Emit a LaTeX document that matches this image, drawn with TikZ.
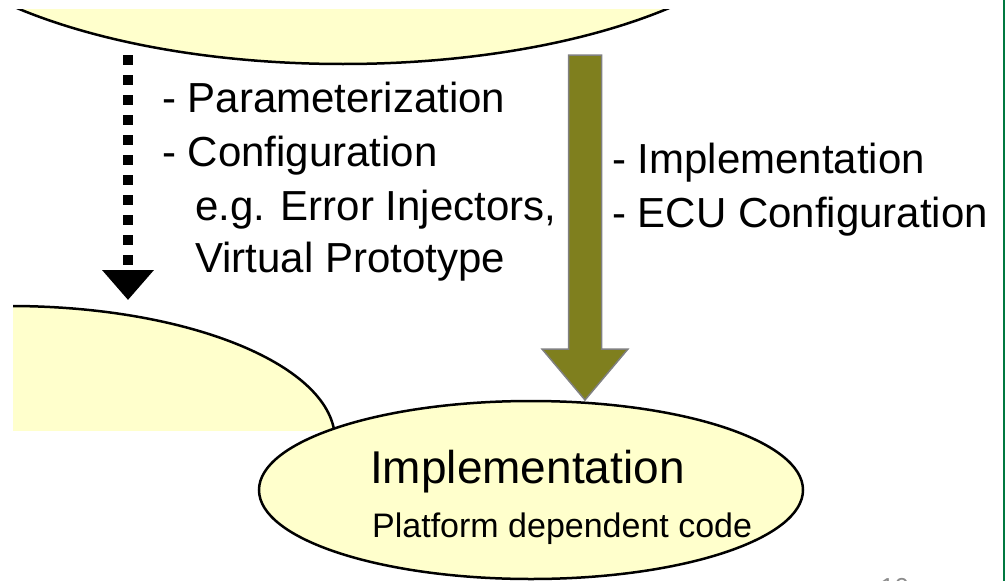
\documentclass[tikz,border=0pt]{standalone}
\usepackage{fontspec}
\setmainfont{Liberation Sans}
\usetikzlibrary{arrows.meta,shapes.geometric,calc}
\definecolor{paleyellow}{RGB}{255,255,204}
\definecolor{olivefill}{RGB}{127,127,30}
\definecolor{olivegray}{RGB}{128,128,128}
\definecolor{framegreen}{RGB}{0,120,64}
\definecolor{pagegray}{RGB}{140,140,140}
\begin{document}
\begin{tikzpicture}[x=1pt,y=-1pt,
  bubble/.style={ellipse, draw=black, line width=2.5pt, fill=paleyellow, inner sep=0pt},
  lbl/.style={anchor=base west, inner sep=0pt, font=\fontsize{42}{50}\selectfont},
  dotflow/.style={line width=10pt, dash pattern=on 10pt off 10pt,
    -{Triangle[width=50pt,length=30pt]}},
  bigarrow/.style={fill=olivefill, draw=olivegray, line width=1.5pt, line join=miter}]
\useasboundingbox (0,0) rectangle (1005,581);

% upper bubble, cut off by the top edge
\begin{scope}
  \clip (0,9) rectangle (1005,200);
  \node[bubble, minimum width=900pt, minimum height=360pt] (spec) at (343,-116) {};
\end{scope}

% lower left bubble, partly hidden
\begin{scope}
  \clip (13,0) rectangle (1005,430);
  \node[bubble, minimum width=650pt, minimum height=268pt] (proto) at (10,440) {};
\end{scope}

% implementation bubble
\node[bubble, minimum width=544pt, minimum height=178pt] (impl) at (531,490) {};
\node[anchor=base west, inner sep=0pt, font=\fontsize{46}{54}\selectfont] (implT) at (370,483) {Implementation};
\node[anchor=base west, inner sep=0pt, font=\fontsize{34}{40}\selectfont] (implS) at (372,537) {Platform dependent code};

% dotted flow from the upper bubble to the lower left bubble
\coordinate (dotS) at (128,55);
\coordinate (dotE) at (128,300);
\draw[dotflow] (dotS) -- (dotE);

% block arrow from the upper bubble to the implementation bubble
\coordinate (oT) at (585,55);
\coordinate (oH) at (585,400);
\draw[bigarrow] ($(oT)+(-16.5,0)$) -- ($(oT)+(16.5,0)$) -- ($(oH)+(16.5,-51)$)
  -- ($(oH)+(43,-51)$) -- (oH) -- ($(oH)+(-43,-51)$) -- ($(oH)+(-16.5,-51)$) -- cycle;

% labels
\node[lbl] (p1) at (162,112) {- Parameterization};
\node[lbl] (p2) at (162,166) {- Configuration};
\node[lbl] (p3) at (195,220) {e.g. Error Injectors,};
\node[lbl] (p4) at (195,272) {Virtual Prototype};
\node[lbl] (q1) at (612,173) {- Implementation};
\node[lbl] (q2) at (612,227) {- ECU Configuration};

% page number and frame line
\node[anchor=base west, inner sep=0pt, text=pagegray, font=\fontsize{26}{30}\selectfont] (pagenum) at (880,596) {10};
\coordinate (fT) at (1004,0);
\coordinate (fB) at (1004,581);
\draw[framegreen, line width=2pt] (fT) -- (fB);
\end{tikzpicture}
\end{document}
